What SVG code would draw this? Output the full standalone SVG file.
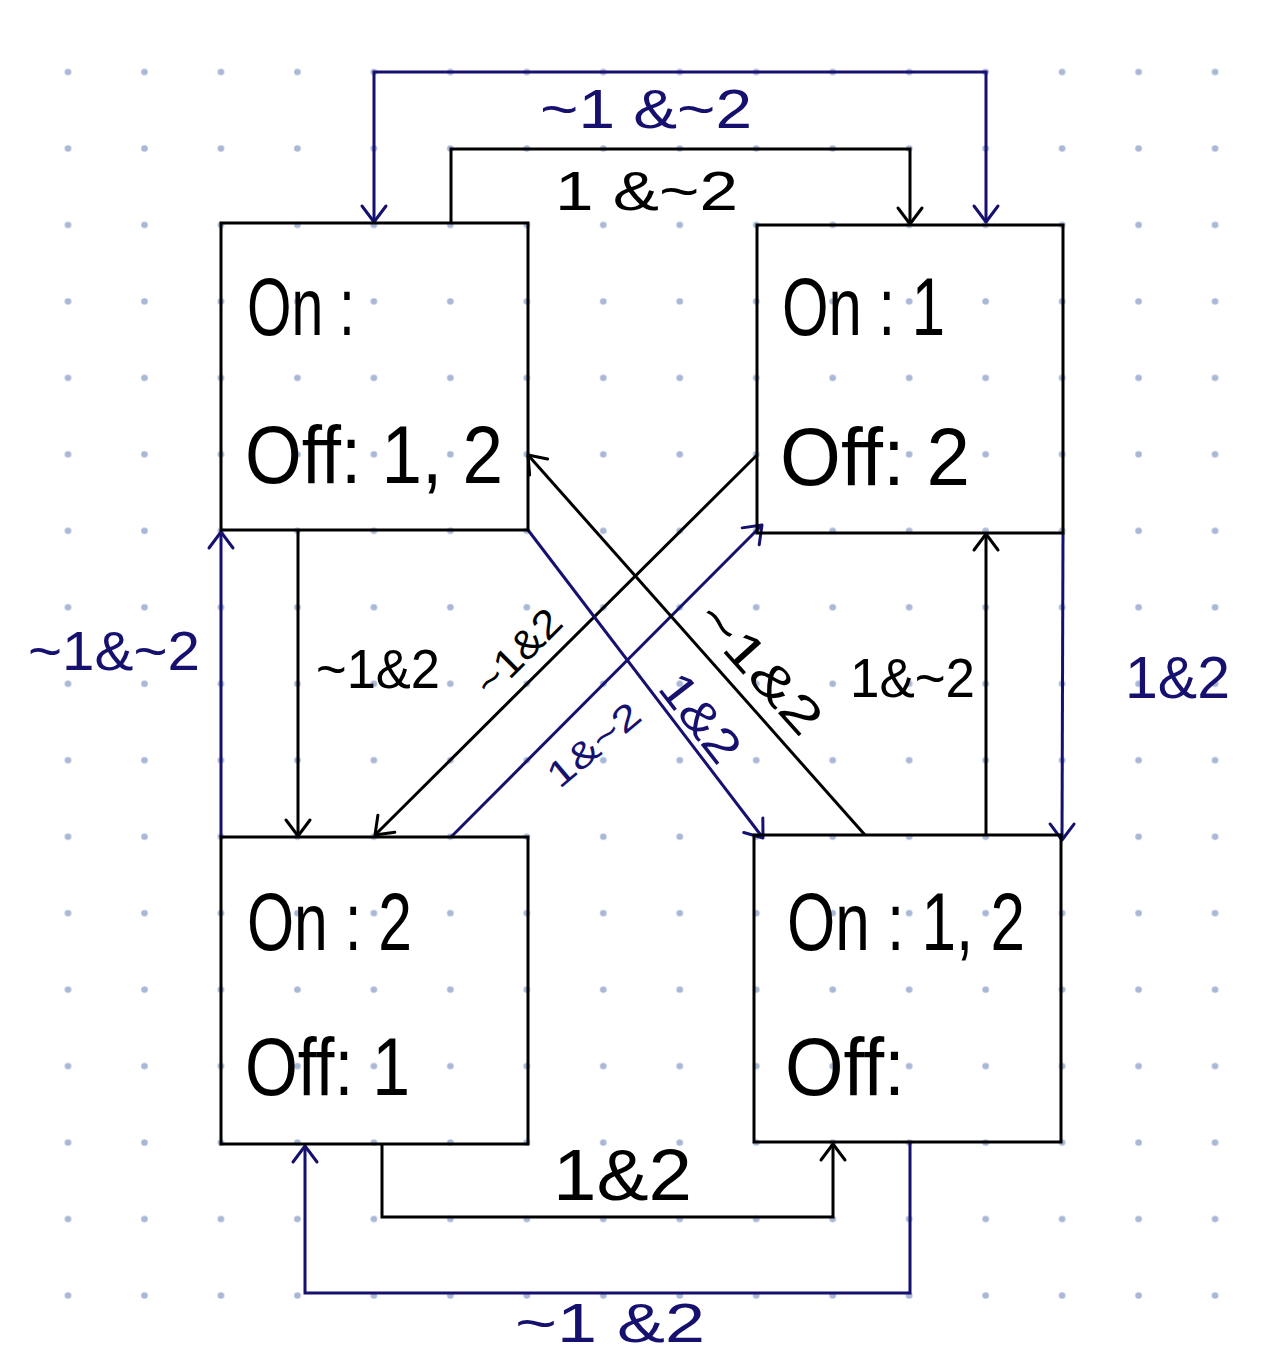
<svg xmlns="http://www.w3.org/2000/svg" width="1262" height="1362" viewBox="0 0 1262 1362">
<style>
.box{fill:none;stroke:#000;stroke-width:3}
.k{fill:none;stroke:#000;stroke-width:3;stroke-linejoin:miter}
.n{fill:none;stroke:#16116f;stroke-width:3;stroke-linejoin:miter}
.t{font-family:"Liberation Sans","Noto Sans",sans-serif;fill:#000}
.lk{font-family:"Liberation Sans","Noto Sans",sans-serif;fill:#000}
.ln{font-family:"Liberation Sans","Noto Sans",sans-serif;fill:#16116f}
</style>
<defs>
<pattern id="dots" patternUnits="userSpaceOnUse" x="29.77" y="33.77" width="76.47" height="76.47">
<circle cx="38.23" cy="38.23" r="3.3" fill="#a9b8d6"/>
</pattern>
<marker id="ak" markerUnits="userSpaceOnUse" markerWidth="40" markerHeight="40" refX="0" refY="0" viewBox="-20 -20 40 40" orient="auto-start-reverse" overflow="visible">
<path d="M-16,-12 L0,0 L-16,12" fill="none" stroke="#000" stroke-width="3" stroke-linecap="round" stroke-linejoin="round"/>
</marker>
<marker id="an" markerUnits="userSpaceOnUse" markerWidth="40" markerHeight="40" refX="0" refY="0" viewBox="-20 -20 40 40" orient="auto-start-reverse" overflow="visible">
<path d="M-16,-12 L0,0 L-16,12" fill="none" stroke="#16116f" stroke-width="3" stroke-linecap="round" stroke-linejoin="round"/>
</marker>
</defs>
<rect width="1262" height="1362" fill="#fff"/>
<rect width="1262" height="1362" fill="url(#dots)"/>

<g id="connectors">
<path class="n" d="M374,222 V72 H986 V222" marker-start="url(#an)" marker-end="url(#an)"/>
<path class="k" d="M451,223 V149 H910 V224" marker-end="url(#ak)"/>
<path class="n" d="M221,837 V532" marker-end="url(#an)"/>
<path class="k" d="M298,530 V836" marker-end="url(#ak)"/>
<path class="k" d="M757,455 L375,835" marker-end="url(#ak)"/>
<path class="n" d="M451,837 L762,525" marker-end="url(#an)"/>
<path class="n" d="M528,530 L763,838" marker-end="url(#an)"/>
<path class="k" d="M865,835 L528,455" marker-end="url(#ak)"/>
<path class="k" d="M986,835 V534" marker-end="url(#ak)"/>
<path class="n" d="M1063,533 L1062,840" marker-end="url(#an)"/>
<path class="k" d="M382,1144 V1217 H833 V1144" marker-end="url(#ak)"/>
<path class="n" d="M910,1142 V1293 H305 V1146" marker-end="url(#an)"/>

<text class="ln" x="540" y="128" font-size="55" textLength="212" lengthAdjust="spacingAndGlyphs">~1 &amp;~2</text>
<text class="lk" x="555" y="210" font-size="55" textLength="183" lengthAdjust="spacingAndGlyphs">1 &amp;~2</text>
<text class="ln" x="28" y="670" font-size="55" textLength="172" lengthAdjust="spacingAndGlyphs">~1&amp;~2</text>
<text class="lk" x="316" y="688" font-size="55" textLength="124" lengthAdjust="spacingAndGlyphs">~1&amp;2</text>
<text class="lk" x="850" y="697" font-size="55" textLength="125" lengthAdjust="spacingAndGlyphs">1&amp;~2</text>
<text class="ln" x="1125" y="698" font-size="60" textLength="105" lengthAdjust="spacingAndGlyphs">1&amp;2</text>
<text class="lk" x="553" y="1200" font-size="72" textLength="139" lengthAdjust="spacingAndGlyphs">1&amp;2</text>
<text class="ln" x="515" y="1342" font-size="56" textLength="190" lengthAdjust="spacingAndGlyphs">~1 &amp;2</text>
<text class="lk" transform="translate(518,652) rotate(-45)" x="0" y="14" font-size="40" text-anchor="middle" textLength="105" lengthAdjust="spacingAndGlyphs">~1&amp;2</text>
<text class="lk" transform="translate(760,668) rotate(48)" x="0" y="17" font-size="50" text-anchor="middle" textLength="160" lengthAdjust="spacingAndGlyphs">~1&amp;2</text>
<text class="ln" transform="translate(594,745) rotate(-40)" x="0" y="12" font-size="36" text-anchor="middle" textLength="110" lengthAdjust="spacingAndGlyphs">1&amp;~2</text>
<text class="ln" transform="translate(700,718) rotate(52)" x="0" y="16" font-size="48" text-anchor="middle" textLength="100" lengthAdjust="spacingAndGlyphs">1&amp;2</text>
</g>

<g id="state-off-12">
<rect class="box" x="221" y="223" width="307" height="307"/>
<text class="t" x="247" y="335" font-size="82" textLength="108" lengthAdjust="spacingAndGlyphs">On :</text>
<text class="t" x="245" y="483" font-size="82" textLength="258" lengthAdjust="spacingAndGlyphs">Off: 1, 2</text>
</g>
<g id="state-on1">
<rect class="box" x="757" y="225" width="306" height="308"/>
<text class="t" x="782" y="335" font-size="82" textLength="163" lengthAdjust="spacingAndGlyphs">On : 1</text>
<text class="t" x="780" y="485" font-size="82" textLength="190" lengthAdjust="spacingAndGlyphs">Off: 2</text>
</g>
<g id="state-on2">
<rect class="box" x="221" y="837" width="307" height="307"/>
<text class="t" x="247" y="950" font-size="82" textLength="165" lengthAdjust="spacingAndGlyphs">On : 2</text>
<text class="t" x="245" y="1095" font-size="82" textLength="165" lengthAdjust="spacingAndGlyphs">Off: 1</text>
</g>
<g id="state-on12">
<rect class="box" x="754" y="835" width="307" height="307"/>
<text class="t" x="787" y="950" font-size="82" textLength="238" lengthAdjust="spacingAndGlyphs">On : 1, 2</text>
<text class="t" x="785" y="1095" font-size="82" textLength="120" lengthAdjust="spacingAndGlyphs">Off:</text>
</g>
</svg>
